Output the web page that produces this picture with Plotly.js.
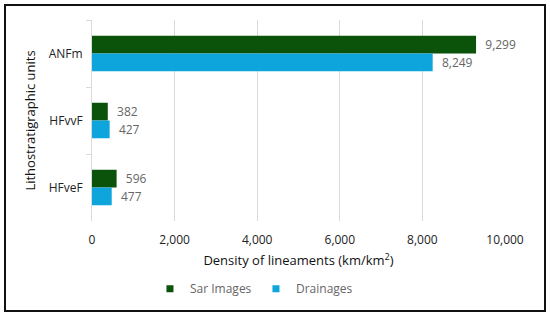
<!DOCTYPE html>
<html>
<head>
<meta charset="utf-8">
<script src="https://cdn.plot.ly/plotly-3.0.1.min.js"></script>
<style>
  body { margin: 0; background: #fff; }
  #plot-div { position: absolute; left: 0; top: 0; width: 550px; height: 316px; }
  #frame { position: absolute; left: 4px; top: 4px; width: 542px; height: 308px;
           border: 2px solid #111; box-sizing: border-box; pointer-events: none; }
</style>
</head>
<body>
<div id="plot-div"></div>
<div id="frame"></div>
<script>
  // chart data
  var units = ["ANFm", "HFvvF", "HFveF"];
  var sarImages = [9299, 382, 596];
  var drainages = [8249, 427, 477];
  var xTicks = [0, 2000, 4000, 6000, 8000, 10000];

  var fontFamily = "Open Sans, Liberation Sans, sans-serif";

  function makeTrace(name, values, color) {
    return {
      type: "bar",
      orientation: "h",
      name: name,
      legendgroup: name,
      showlegend: false,
      y: units,
      x: values,
      marker: { color: color },
      text: values.map(function (v) { return "\u00a0\u00a0" + v.toLocaleString("en-US"); }),
      textposition: "outside",
      cliponaxis: false,
      textfont: { family: fontFamily, size: 12, color: "#666" },
      hoverinfo: "x+name",
    };
  }

  // small square legend keys, like the reference
  function legendKey(name, color) {
    return {
      type: "scatter",
      mode: "markers",
      name: name,
      legendgroup: name,
      x: [null],
      y: [null],
      marker: { symbol: "square", size: 7, color: color },
      hoverinfo: "skip",
    };
  }

  var green = "#0b530b";
  var blue = "#0ea4dc";

  var data = [
    makeTrace("Sar Images", sarImages, green),
    makeTrace("Drainages", drainages, blue),
    legendKey("Sar Images", green),
    legendKey("Drainages", blue),
  ];

  var layout = {
    width: 550,
    height: 316,
    margin: { l: 92, r: 45, t: 20, b: 95 },
    barmode: "group",
    bargap: 0.47,
    bargroupgap: 0,
    paper_bgcolor: "#fff",
    plot_bgcolor: "#fff",
    font: { family: fontFamily, size: 12, color: "#222" },
    showlegend: true,
    legend: {
      orientation: "h",
      x: 0.397,
      xanchor: "center",
      y: -0.265,
      yanchor: "top",
      font: { family: fontFamily, size: 12, color: "#666" },
      itemwidth: 30,
      entrywidth: 61,
      tracegroupgap: 0,
    },
    xaxis: {
      range: [0, 10000],
      tickvals: xTicks,
      ticktext: xTicks.map(function (v) { return v.toLocaleString("en-US"); }),
      showgrid: true,
      gridcolor: "#d9d9d9",
      gridwidth: 1,
      zeroline: false,
      showline: false,
      ticks: "outside",
      ticklen: 8,
      tickcolor: "rgba(0,0,0,0)",
      tickfont: { family: fontFamily, size: 12, color: "#222" },
      title: {
        text: "Density of lineaments (km/km<sup>2</sup>)",
        font: { family: fontFamily, size: 13, color: "#111" },
        standoff: 8,
      },
      fixedrange: true,
    },
    yaxis: {
      type: "category",
      autorange: "reversed",
      showgrid: false,
      zeroline: false,
      showline: true,
      linecolor: "#d9d9d9",
      linewidth: 1,
      ticks: "outside",
      tickson: "boundaries",
      ticklen: 5,
      tickcolor: "#d9d9d9",
      ticklabelstandoff: 6,
      tickfont: { family: fontFamily, size: 12, color: "#222" },
      title: {
        text: "Lithostratigraphic units",
        font: { family: fontFamily, size: 13, color: "#111" },
        standoff: 10,
      },
      fixedrange: true,
    },
  };

  Plotly.newPlot("plot-div", data, layout, { displayModeBar: false, staticPlot: true });
</script>
</body>
</html>
